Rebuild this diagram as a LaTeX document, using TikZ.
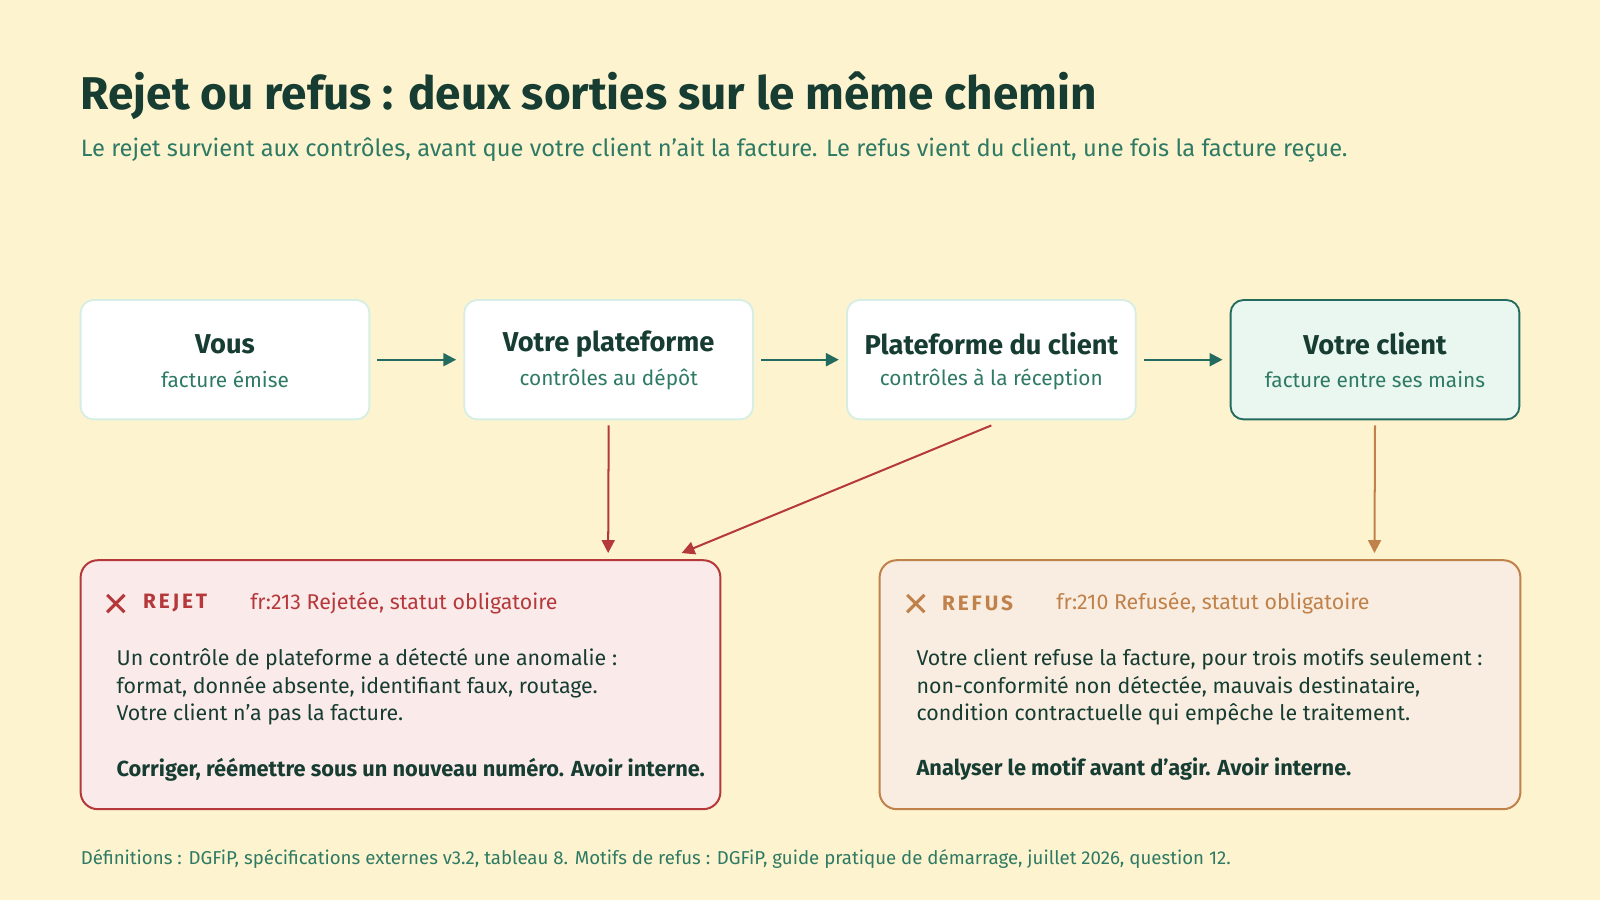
\documentclass[tikz,border=0pt]{standalone}
\usepackage{fontspec}
\setmainfont{Fira Sans}
\usetikzlibrary{arrows.meta}
\definecolor{cream}{HTML}{FDF4CF}
\definecolor{ink}{HTML}{173D33}
\definecolor{teal}{HTML}{236B5E}
\definecolor{sub}{HTML}{2E7A64}
\definecolor{pale}{HTML}{D6EEE3}
\definecolor{mint}{HTML}{EAF6F0}
\definecolor{rej}{HTML}{B5393B}
\definecolor{rejbg}{HTML}{FBEAEA}
\definecolor{ref}{HTML}{C0814A}
\definecolor{refbg}{HTML}{F8EDE0}
\tikzset{
  stage/.style={draw=pale,line width=1.3pt,fill=white,rounded corners=9pt,minimum width=283*0.025cm,minimum height=117*0.025cm},
  head/.style={inner sep=0pt,text=ink,font=\fontsize{19}{22}\selectfont\bfseries},
  note/.style={inner sep=0pt,text=sub,font=\fontsize{14.5}{17}\selectfont},
  flow/.style={-{Triangle[length=9pt,width=9pt]},line width=1.6pt,teal},
  down/.style={-{Triangle[length=9pt,width=9pt]},line width=1.4pt},
  outcome/.style={line width=1.4pt,rounded corners=12pt},
  txt/.style={anchor=west,inner sep=0pt,font=\fontsize{14.9}{17}\selectfont,text=ink},
  bold/.style={txt,font=\fontsize{15.2}{17}\selectfont\bfseries},
  tag/.style={anchor=west,inner sep=0pt,font=\fontsize{14.5}{17}\selectfont\bfseries\addfontfeatures{LetterSpace=14}},
}
\begin{document}
\begin{tikzpicture}[x=0.025cm,y=-0.025cm]
\fill[cream] (0,0) rectangle (1568,882);
\useasboundingbox (0,0) rectangle (1568,882);
% title
\node[anchor=west,inner sep=0pt,text=ink,font=\fontsize{32}{36}\selectfont\bfseries] (title) at (79,94) {Rejet ou refus : deux sorties sur le même chemin};
\node[anchor=west,inner sep=0pt,text=sub,font=\fontsize{16.5}{19}\selectfont] (subtitle) at (79,147) {Le rejet survient aux contrôles, avant que votre client n’ait la facture. Le refus vient du client, une fois la facture reçue.};
% steps
\node[stage] (vous) at (220.5,352.5) {};
\node[stage] (plat) at (596.5,352.5) {};
\node[stage] (platc) at (971.5,352.5) {};
\node[stage,draw=teal,fill=mint] (client) at (1347.5,352.5) {};
\node[head] at (220.5,337) {Vous};
\node[note] at (220.5,372) {facture émise};
\node[head] at (596.5,337) {Votre plateforme};
\node[note] at (596.5,372) {contrôles au dépôt};
\node[head] at (971.5,337) {Plateforme du client};
\node[note] at (971.5,372) {contrôles à la réception};
\node[head] at (1347.5,337) {Votre client};
\node[note] at (1347.5,372) {facture entre ses mains};
\draw[flow] ([xshift=7*0.025cm]vous.east) -- ([xshift=-7*0.025cm]plat.west);
\draw[flow] ([xshift=7*0.025cm]plat.east) -- ([xshift=-7*0.025cm]platc.west);
\draw[flow] ([xshift=7*0.025cm]platc.east) -- ([xshift=-7*0.025cm]client.west);
% outcomes
\draw[outcome,draw=rej,fill=rejbg] (79,549) rectangle (706,793);
\draw[outcome,draw=ref,fill=refbg] (862,549) rectangle (1490,793);
\coordinate (rejA) at (596,542);
\coordinate (rejB) at (668,542);
\coordinate (refA) at (1347,542);
\draw[down,rej] ([yshift=-5*0.025cm]plat.south) -- (rejA);
\draw[down,rej] ([yshift=-5*0.025cm]platc.south) -- (rejB);
\draw[down,ref] ([yshift=-5*0.025cm]client.south) -- (refA);
% rejet
\draw[rej,line width=2.2pt] (105,583) -- (122,600) (105,600) -- (122,583);
\node[tag,text=rej] (rejtag) at (140,591) {REJET};
\node[txt,text=rej] (rejcode) at (245,591) {fr:213 Rejetée, statut obligatoire};
\node[txt] (rej1) at (114,646) {Un contrôle de plateforme a détecté une anomalie :};
\node[txt] (rej2) at (114,673) {format, donnée absente, identifiant faux, routage.};
\node[txt] (rej3) at (114,700) {Votre client n’a pas la facture.};
\node[bold] (rej4) at (114,754) {Corriger, réémettre sous un nouveau numéro. Avoir interne.};
% refus
\draw[ref,line width=2.2pt] (889,583) -- (906,600) (889,600) -- (906,583);
\node[tag,text=ref] (reftag) at (923,591) {REFUS};
\node[txt,text=ref] (refcode) at (1035,591) {fr:210 Refusée, statut obligatoire};
\node[txt] (ref1) at (898,646) {Votre client refuse la facture, pour trois motifs seulement :};
\node[txt] (ref2) at (898,673) {non-conformité non détectée, mauvais destinataire,};
\node[txt] (ref3) at (898,700) {condition contractuelle qui empêche le traitement.};
\node[bold] (ref4) at (898,754) {Analyser le motif avant d’agir. Avoir interne.};
% footer
\node[anchor=west,inner sep=0pt,text=sub,font=\fontsize{13}{15}\selectfont] (foot) at (79,842) {Définitions : DGFiP, spécifications externes v3.2, tableau 8. Motifs de refus : DGFiP, guide pratique de démarrage, juillet 2026, question 12.};
\end{tikzpicture}
\end{document}
